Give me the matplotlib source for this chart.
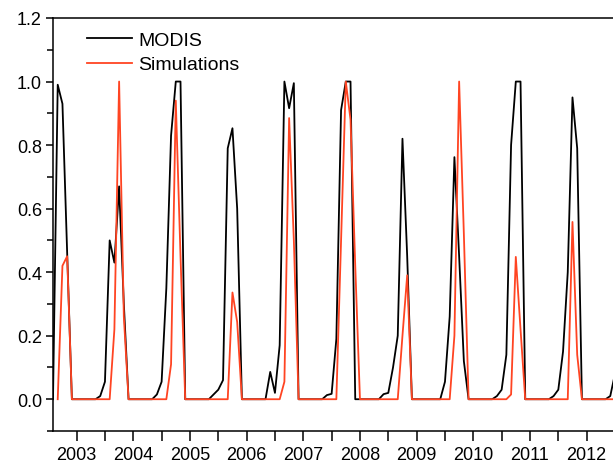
import matplotlib
matplotlib.use('Agg')
import matplotlib.pyplot as plt
from matplotlib.ticker import MultipleLocator, FormatStrFormatter
import numpy as np

plt.rcParams['font.family'] = ['Liberation Sans', 'DejaVu Sans']

# monthly series, MODIS starts one month before the simulations
modis_start = 2002 + 7/12
sim_start = 2002 + 8/12

modis = [0.0,
         0.99, 0.93, 0.46, 0, 0, 0, 0, 0, 0, 0.01, 0.055, 0.50,
         0.43, 0.67, 0.30, 0, 0, 0, 0, 0, 0, 0.015, 0.055, 0.35,
         0.83, 1.0, 1.0, 0, 0, 0, 0, 0, 0, 0.015, 0.03, 0.06,
         0.79, 0.853, 0.60, 0, 0, 0, 0, 0, 0, 0.086, 0.02, 0.17,
         1.0, 0.916, 0.995, 0, 0, 0, 0, 0, 0, 0.013, 0.017, 0.19,
         0.91, 1.0, 1.0, 0, 0, 0, 0, 0, 0, 0.016, 0.02, 0.10,
         0.20, 0.82, 0.45, 0, 0, 0, 0, 0, 0, 0, 0.055, 0.26,
         0.762, 0.45, 0.12, 0, 0, 0, 0, 0, 0, 0.01, 0.03, 0.14,
         0.80, 1.0, 1.0, 0, 0, 0, 0, 0, 0, 0.01, 0.03, 0.15,
         0.40, 0.95, 0.79, 0, 0, 0, 0, 0, 0, 0.01, 0.08]

sim = [0, 0.42, 0.45, 0, 0, 0, 0, 0, 0, 0, 0, 0,
       0.22, 1.0, 0.26, 0, 0, 0, 0, 0, 0, 0, 0, 0,
       0.11, 0.94, 0.45, 0, 0, 0, 0, 0, 0, 0, 0, 0,
       0, 0.336, 0.243, 0, 0, 0, 0, 0, 0, 0, 0, 0,
       0.055, 0.885, 0.50, 0, 0, 0, 0, 0, 0, 0, 0, 0,
       0.50, 1.0, 0.88, 0.42, 0, 0, 0, 0, 0, 0, 0, 0,
       0, 0.20, 0.39, 0, 0, 0, 0, 0, 0, 0, 0, 0,
       0.20, 1.0, 0.52, 0, 0, 0, 0, 0, 0, 0, 0, 0,
       0.015, 0.448, 0.22, 0, 0, 0, 0, 0, 0, 0, 0, 0,
       0, 0.558, 0.14, 0, 0, 0, 0, 0, 0, 0, 0]

years = list(range(2003, 2013))

t_modis = modis_start + np.arange(len(modis)) / 12
t_sim = sim_start + np.arange(len(sim)) / 12

fig = plt.figure(figsize=(6.13, 4.64), dpi=100)
ax = fig.add_axes([53/613, 32/464, 1 - 53/613, 413/464])

ax.plot(t_modis, modis, color='black', lw=1.3, label='MODIS')
ax.plot(t_sim, sim, color='#ff4422', lw=1.3, label='Simulations')

ax.set_xlim(modis_start, modis_start + 560/56.67)
ax.set_ylim(-0.1, 1.2)

ax.set_xticks(years)
ax.set_xticklabels([str(y) for y in years])
ax.xaxis.set_minor_locator(MultipleLocator(0.5))
ax.yaxis.set_major_locator(MultipleLocator(0.2))
ax.yaxis.set_minor_locator(MultipleLocator(0.1))
ax.yaxis.set_major_formatter(FormatStrFormatter('%.1f'))

ax.tick_params(axis='x', which='both', direction='out', length=7, width=1.1,
               labelsize=13, pad=4)
ax.tick_params(axis='y', which='major', direction='out', length=5, width=1.1,
               labelsize=13, pad=3)
ax.tick_params(axis='y', which='minor', direction='out', length=4, width=1.1)
ax.tick_params(top=False, right=False, which='both')

for s in ['left', 'bottom', 'top']:
    ax.spines[s].set_linewidth(1.1)
ax.spines['right'].set_visible(False)

ax.legend(loc='upper left', bbox_to_anchor=(0.0607, 0.968), frameon=False,
          fontsize=14, handlelength=2.3, handletextpad=0.35,
          labelspacing=0.36, borderpad=0, borderaxespad=0)

fig.savefig('out.png', dpi=100)
